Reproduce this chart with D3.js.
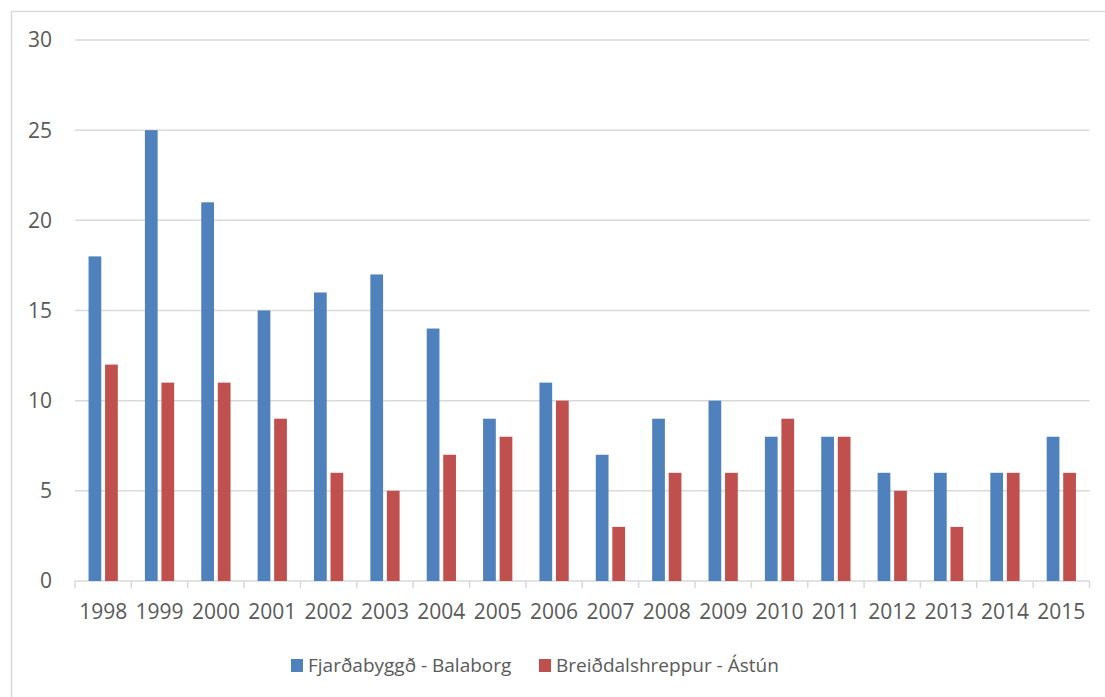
<!DOCTYPE html>
<html>
<head>
<meta charset="utf-8">
<script src="https://cdn.jsdelivr.net/npm/d3@7"></script>
<style>
  body { margin: 0; background: #fff; }
  text { font-family: "Open Sans", "Noto Sans", sans-serif; fill: #595959; }
</style>
</head>
<body>
<div id="chart"></div>
<script>
// Chart data
var years = ["1998", "1999", "2000", "2001", "2002", "2003", "2004", "2005", "2006",
             "2007", "2008", "2009", "2010", "2011", "2012", "2013", "2014", "2015"];
var series_names = ["Fjarðabyggð - Balaborg", "Breiðdalshreppur - Ástún"];
var balaborg = [18, 25, 21, 15, 16, 17, 14, 9, 11, 7, 9, 10, 8, 8, 6, 6, 6, 8];
var astun = [12, 11, 11, 9, 6, 5, 7, 8, 10, 3, 6, 6, 9, 8, 5, 3, 6, 6];
var y_ticks = [0, 5, 10, 15, 20, 25, 30];
var colours = ["#4F81BD", "#C0504D"];

var width = 1105, height = 697;
var plot = { left: 75, right: 1089.5, top: 40, bottom: 581 };

var svg = d3.select("#chart").append("svg")
    .attr("width", width)
    .attr("height", height);

// Outer chart border (only top and left visible in the frame)
svg.append("rect")
    .attr("x", 11.5).attr("y", 11.5)
    .attr("width", width + 20).attr("height", height + 20)
    .attr("fill", "none")
    .attr("stroke", "#D9D9D9")
    .attr("stroke-width", 1.5);

var x0 = d3.scaleBand()
    .domain(years)
    .range([plot.left, plot.right])
    .padding(0);

var x1 = d3.scaleBand()
    .domain(series_names)
    .range([0, x0.bandwidth()])
    .paddingInner(0.23)
    .paddingOuter(0.82);

var y = d3.scaleLinear()
    .domain([0, 30])
    .range([plot.bottom, plot.top]);

// Gridlines
svg.append("g")
    .selectAll("line")
    .data(y_ticks)
    .enter().append("line")
    .attr("x1", plot.left)
    .attr("x2", plot.right)
    .attr("y1", function(d) { return y(d); })
    .attr("y2", function(d) { return y(d); })
    .attr("stroke", "#D9D9D9")
    .attr("stroke-width", 1.5);

// Y axis labels
svg.append("g")
    .selectAll("text")
    .data(y_ticks)
    .enter().append("text")
    .attr("x", 52)
    .attr("y", function(d) { return y(d); })
    .attr("dy", "0.35em")
    .attr("text-anchor", "end")
    .style("font-size", "21px")
    .text(function(d) { return d; });

// X axis ticks
var tick_pos = years.map(function(d) { return x0(d); }).concat([plot.right]);
svg.append("g")
    .selectAll("line")
    .data(tick_pos)
    .enter().append("line")
    .attr("x1", function(d) { return d; })
    .attr("x2", function(d) { return d; })
    .attr("y1", plot.bottom)
    .attr("y2", plot.bottom + 7)
    .attr("stroke", "#D9D9D9")
    .attr("stroke-width", 1.5);

svg.append("g")
    .selectAll("text")
    .data(years)
    .enter().append("text")
    .attr("x", function(d) { return x0(d) + x0.bandwidth() / 2; })
    .attr("y", 619)
    .attr("text-anchor", "middle")
    .style("font-size", "21px")
    .text(function(d) { return d; });

// Bars
var rows = years.map(function(yr, i) {
    return { year: yr, values: [balaborg[i], astun[i]] };
});

var groups = svg.append("g")
    .selectAll("g")
    .data(rows)
    .enter().append("g")
    .attr("transform", function(d) { return "translate(" + x0(d.year) + ",0)"; });

groups.selectAll("rect")
    .data(function(d) {
        return d.values.map(function(v, j) { return { name: series_names[j], value: v, idx: j }; });
    })
    .enter().append("rect")
    .attr("x", function(d) { return x1(d.name); })
    .attr("width", x1.bandwidth())
    .attr("y", function(d) { return y(d.value); })
    .attr("height", function(d) { return y(0) - y(d.value); })
    .attr("fill", function(d) { return colours[d.idx]; });

// Legend
var legend_x = [291, 539];
var legend = svg.append("g")
    .selectAll("g")
    .data(series_names)
    .enter().append("g")
    .attr("transform", function(d, i) { return "translate(" + legend_x[i] + ",659)"; });
legend.append("rect")
    .attr("width", 12)
    .attr("height", 13)
    .attr("fill", function(d, i) { return colours[i]; });
legend.append("text")
    .attr("x", 17)
    .attr("y", 6.5)
    .attr("dy", "0.35em")
    .style("font-size", "19px")
    .text(function(d) { return d; });
</script>
</body>
</html>
